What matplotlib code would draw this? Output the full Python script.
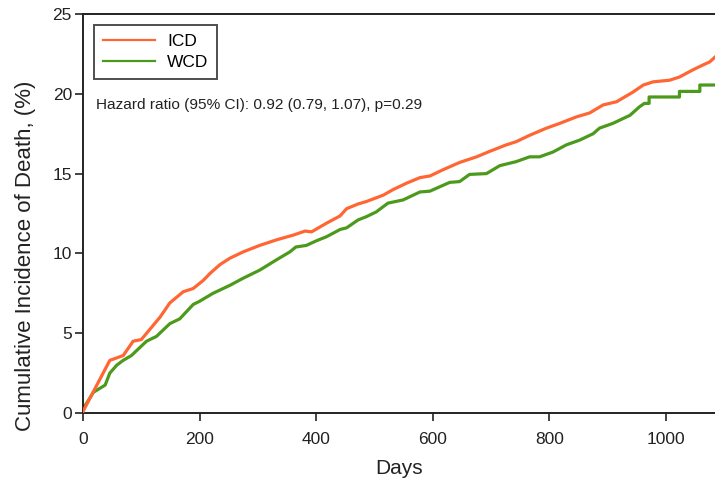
import numpy as np
import matplotlib
import matplotlib.pyplot as plt

matplotlib.use('agg')

plt.rcParams['font.family'] = ['Liberation Sans', 'DejaVu Sans']

# cumulative incidence (days, %)
icd_days = [0, 46, 69, 86, 100, 132, 149, 172, 189, 206, 218, 235, 252, 275, 303,
            332, 361, 381, 392, 418, 441, 452, 472, 486, 515, 532, 555, 578, 595,
            618, 646, 675, 698, 726, 743, 766, 795, 818, 846, 869, 892, 915, 943,
            961, 978, 1006, 1023, 1046, 1063, 1075, 1084]
icd_vals = [0.1, 3.3, 3.6, 4.5, 4.6, 6.0, 6.9, 7.6, 7.8, 8.3, 8.75, 9.3, 9.7, 10.1, 10.5,
            10.85, 11.15, 11.4, 11.35, 11.9, 12.35, 12.8, 13.1, 13.25, 13.65, 14.0, 14.4,
            14.75, 14.85, 15.25, 15.7, 16.05, 16.4, 16.8, 17.0, 17.4, 17.85, 18.15, 18.55,
            18.8, 19.3, 19.5, 20.1, 20.55, 20.75, 20.85, 21.05, 21.5, 21.8, 22.0, 22.3]

wcd_days = [0, 6, 18, 38, 46, 58, 69, 83, 109, 126, 149, 166, 189, 200, 223, 252,
            275, 303, 332, 355, 365, 383, 401, 418, 441, 452, 472, 486, 503, 523,
            549, 578, 595, 629, 646, 663, 692, 715, 743, 766, 783, 806, 829, 852,
            875, 886, 909, 938, 955, 963, 971, 971, 1023, 1023, 1058, 1058, 1084]
wcd_vals = [0.3, 0.6, 1.3, 1.75, 2.5, 3.0, 3.3, 3.6, 4.5, 4.8, 5.6, 5.9, 6.8, 7.0, 7.5,
            8.0, 8.45, 8.95, 9.6, 10.1, 10.4, 10.5, 10.8, 11.05, 11.5, 11.6, 12.1, 12.3,
            12.6, 13.15, 13.35, 13.85, 13.9, 14.45, 14.5, 14.95, 15.0, 15.5, 15.75, 16.05,
            16.05, 16.35, 16.8, 17.1, 17.5, 17.85, 18.15, 18.65, 19.2, 19.4, 19.4, 19.8,
            19.8, 20.15, 20.15, 20.55, 20.55]

x_ticks = [0, 200, 400, 600, 800, 1000]
y_ticks = [0, 5, 10, 15, 20, 25]
hr_text = "Hazard ratio (95% CI): 0.92 (0.79, 1.07), p=0.29"

fig = plt.figure(figsize=(7.15, 4.83), dpi=100)
ax = fig.add_axes([83/715, 70/483, 632/715, 399/483])

ax.plot(icd_days, icd_vals, color='#FF6633', lw=2.3, label='ICD', zorder=3)
ax.plot(wcd_days, wcd_vals, color='#4C9A1C', lw=2.3, label='WCD', zorder=2)

ax.set_xlim(0, 1084)
ax.set_ylim(0, 25)
ax.set_xticks(x_ticks)
ax.set_yticks(y_ticks)
ax.tick_params(axis='both', direction='out', length=6, width=1.2, labelsize=12.5, colors='#222222')
ax.tick_params(axis='y', pad=2)
ax.tick_params(axis='x', pad=8)

for s in ['left', 'bottom', 'top']:
    ax.spines[s].set_linewidth(1.4)
    ax.spines[s].set_color('#222222')
ax.spines['right'].set_visible(False)

ax.set_xlabel('Days', fontsize=15, color='#222222', labelpad=8)
ax.set_ylabel('Cumulative Incidence of Death, (%)', fontsize=16, color='#222222')
ax.yaxis.set_label_coords(-0.074, 0.393)

leg = ax.legend(loc='upper left', bbox_to_anchor=(11/632, (413-25)/399),
                fontsize=12.5, frameon=True, fancybox=False, handlelength=3.0,
                borderpad=0.5, labelspacing=0.35, handletextpad=0.7, borderaxespad=0)
leg.get_frame().set_edgecolor('#222222')
leg.get_frame().set_linewidth(1.4)
for line in leg.get_lines():
    line.set_linewidth(1.6)

ax.text(13/632, (413-105)/399, hr_text, transform=ax.transAxes,
        fontsize=11.1, va='center', ha='left', color='#222222')

plt.savefig('out.png', dpi=100)
